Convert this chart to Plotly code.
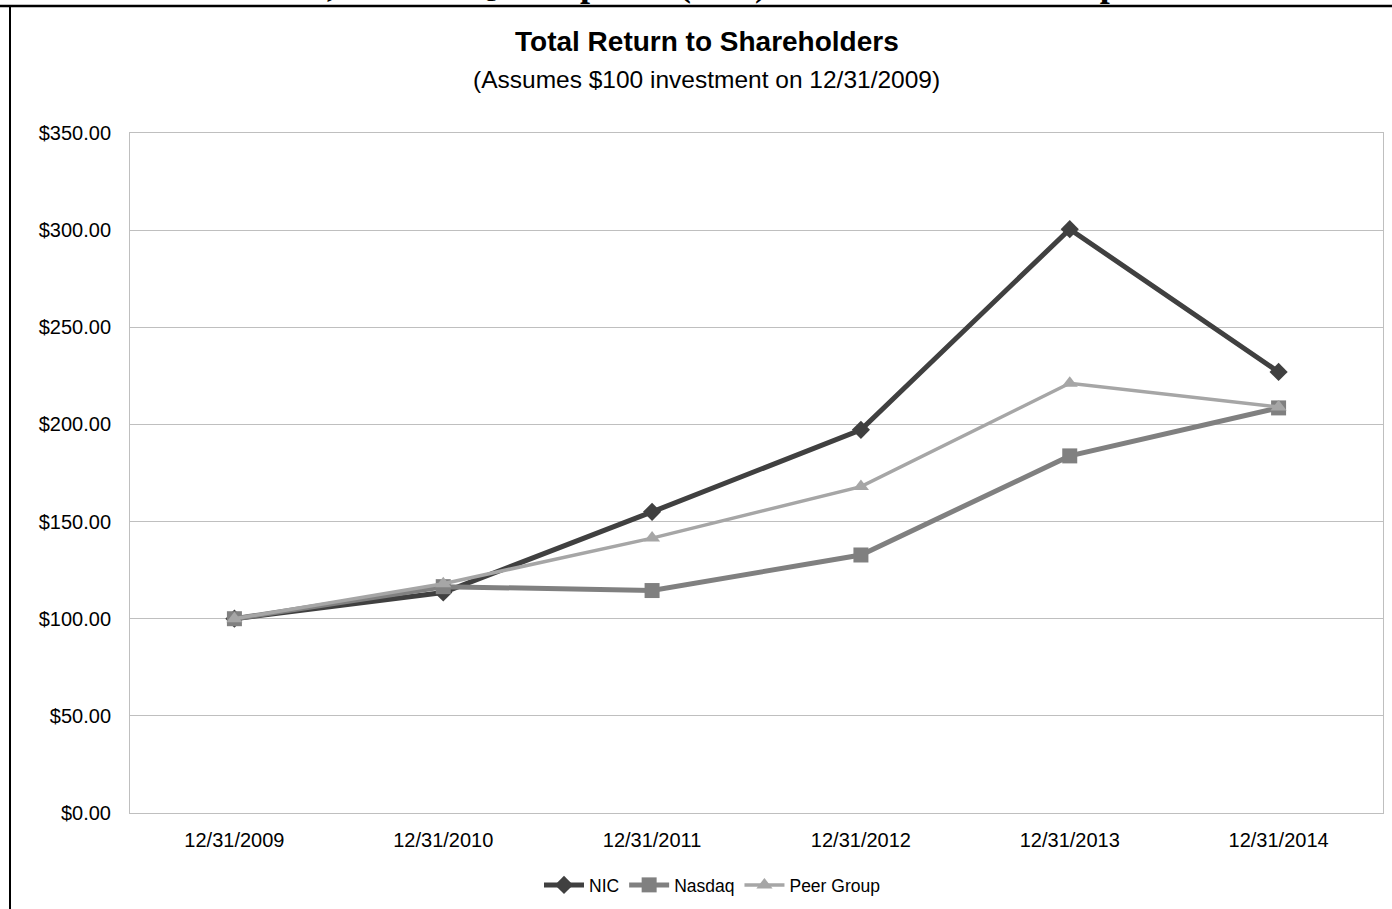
import plotly.graph_objects as go

categories = ["12/31/2009", "12/31/2010", "12/31/2011", "12/31/2012", "12/31/2013", "12/31/2014"]
nic = [100.0, 113.5, 155.0, 197.2, 300.5, 227.0]
nasdaq = [100.0, 116.5, 114.5, 132.8, 183.8, 208.5]
peer = [100.0, 118.0, 141.5, 168.0, 221.2, 209.0]
y_ticks = [0, 50, 100, 150, 200, 250, 300, 350]
y_tick_labels = ["$%.2f" % v for v in y_ticks]

FONT = "Liberation Sans, Arial, sans-serif"

fig = go.Figure()
fig.add_trace(go.Scatter(x=categories, y=nic, name="NIC", mode="lines+markers",
                         line=dict(color="#404040", width=5),
                         marker=dict(symbol="diamond", size=14, color="#404040")))
fig.add_trace(go.Scatter(x=categories, y=nasdaq, name="Nasdaq", mode="lines+markers",
                         line=dict(color="#808080", width=5),
                         marker=dict(symbol="square", size=15, color="#808080")))
fig.add_trace(go.Scatter(x=categories, y=peer, name="Peer Group", mode="lines+markers",
                         line=dict(color="#a6a6a6", width=3.5),
                         marker=dict(symbol="triangle-up", size=14, color="#a6a6a6")))

L, R, T, B = 130, 9, 133, 96
W, H = 1392, 909
pw, ph = W - L - R, H - T - B

def px(x):
    return (x - L) / pw

def py(y):
    return (H - B - y) / ph

fig.update_layout(
    width=W, height=H,
    margin=dict(l=L, r=R, t=T, b=B, autoexpand=False),
    paper_bgcolor="white", plot_bgcolor="white",
    font=dict(family=FONT, color="black"),
    xaxis=dict(type="category", range=[-0.5, 5.5], showgrid=False, zeroline=False,
               showline=True, linecolor="#bfbfbf", linewidth=1, mirror=True, automargin=False,
               tickfont=dict(size=20, family=FONT), ticks="", ticklabelstandoff=9),
    yaxis=dict(range=[0, 350], tickvals=y_ticks, ticktext=y_tick_labels, automargin=False,
               showgrid=True, gridcolor="#bfbfbf", gridwidth=1, zeroline=False,
               showline=True, linecolor="#bfbfbf", linewidth=1, mirror=True,
               tickfont=dict(size=20, family=FONT), ticks="", ticklabelstandoff=14),
    legend=dict(orientation="h", x=px(712), xanchor="center", y=py(885), yanchor="middle",
                font=dict(size=17.5, family=FONT), itemwidth=40, traceorder="normal"),
    showlegend=True,
)

# Titles
fig.add_annotation(text="<b>Total Return to Shareholders</b>", xref="paper", yref="paper",
                   x=px(707), y=py(41), xanchor="center", yanchor="middle", showarrow=False,
                   font=dict(size=28, family=FONT, color="black"))
fig.add_annotation(text="(Assumes $100 investment on 12/31/2009)", xref="paper", yref="paper",
                   x=px(706), y=py(79), xanchor="center", yanchor="middle", showarrow=False,
                   font=dict(size=24.5, family=FONT, color="black"))
# Cut-off heading above the chart frame
fig.add_annotation(text="<b>NIC Inc., NASDAQ Composite (U.S.) Index and Peer Group</b>",
                   xref="paper", yref="paper", x=px(656), y=py(6), xanchor="center",
                   yanchor="bottom", showarrow=False,
                   font=dict(size=36, family="Liberation Serif, Times New Roman, serif", color="black"))

# Outer frame
fig.add_shape(type="line", xref="paper", yref="paper", x0=px(0), x1=px(1392), y0=py(6), y1=py(6),
              line=dict(color="black", width=2.5))
fig.add_shape(type="line", xref="paper", yref="paper", x0=px(10), x1=px(10), y0=py(6), y1=py(909),
              line=dict(color="black", width=2))

fig.write_html("out.html")
